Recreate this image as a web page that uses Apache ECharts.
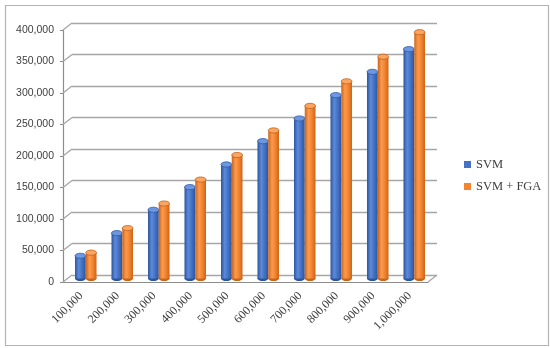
<!DOCTYPE html>
<html><head><meta charset="utf-8">
<script src="https://cdn.jsdelivr.net/npm/echarts@6/dist/echarts.min.js"></script>
<style>html,body{margin:0;padding:0;background:#fff}#c{width:550px;height:348px}</style>
</head><body><div id="c"></div>
<script>
var categories = ['100,000','200,000','300,000','400,000','500,000','600,000','700,000','800,000','900,000','1,000,000'];
var svm    = [36000, 72000, 109000, 145000, 181000, 218000, 254000, 291000, 328000, 364000];
var svmFga = [41000, 80000, 119000, 157000, 196000, 235000, 274000, 313000, 352000, 391000];
var yTicks = [0, 50000, 100000, 150000, 200000, 250000, 300000, 350000, 400000];
var seriesNames = ['SVM', 'SVM + FGA'];

var DX = 9, DY = 7; // 3D depth offset
var chart = echarts.init(document.getElementById('c'), null, {renderer:'canvas'});

function fmt(v){ return v.toString().replace(/\B(?=(\d{3})+(?!\d))/g, ','); }

var palettes = [
  {base:'#4472C4', edge:'#2c55a0', light:'#5d8ad9', top:'#6d97e0', stroke:'#2f5aa6'},
  {base:'#F4842E', edge:'#c9651a', light:'#fb9a4f', top:'#fba561', stroke:'#c4611a'}
];

function cylinder(side){
  return function(params, api){
    var v = api.value(1);
    var top = api.coord([api.value(0), v]);
    var bot = api.coord([api.value(0), 0]);
    var catW = api.size([1, 0])[0];
    var w = catW * 0.295;
    var x = side === 0 ? top[0] - w : top[0];
    var p = palettes[side];
    var ry = 2.6;
    var grad = new echarts.graphic.LinearGradient(0,0,1,0,[
      {offset:0, color:p.edge},{offset:0.35, color:p.light},{offset:0.65, color:p.base},{offset:1, color:p.edge}
    ]);
    return {type:'group', children:[
      {type:'ellipse', shape:{cx:x+w/2, cy:bot[1], rx:w/2, ry:ry}, style:{fill:p.edge}},
      {type:'rect', shape:{x:x, y:top[1], width:w, height:bot[1]-top[1]}, style:{fill:grad}},
      {type:'ellipse', shape:{cx:x+w/2, cy:top[1], rx:w/2, ry:ry}, style:{fill:p.top, stroke:p.stroke, lineWidth:0.8}}
    ]};
  };
}

var option = {
  animation:false,
  backgroundColor:'#fff',
  graphic:[{type:'rect', left:3, top:3, shape:{width:543, height:340}, style:{fill:'none', stroke:'#b4b4b4', lineWidth:1.2}, silent:true}],
  legend:{
    orient:'vertical', left:459, top:153, itemWidth:7, itemHeight:7, itemGap:9, icon:'rect',
    textStyle:{fontFamily:'Liberation Serif', fontSize:12.5, color:'#404040'},
    data:seriesNames
  },
  grid:[
    {left:63, top:30, width:365, height:252},          // front axes
    {left:63+DX, top:30-DY, width:365, height:252},    // back wall
    {left:63+DX/2, top:30-DY/2, width:365, height:252} // bars mid-depth
  ],
  xAxis:[
    {gridIndex:0, type:'category', data:categories, boundaryGap:true,
     axisLine:{lineStyle:{color:'#8c8c8c', width:1.2}},
     axisTick:{length:4, lineStyle:{color:'#8c8c8c'}},
     axisLabel:{rotate:45, margin:12, fontFamily:'Liberation Serif', fontSize:12, color:'#404040', interval:0}},
    {gridIndex:1, type:'category', data:categories, show:false},
    {gridIndex:2, type:'category', data:categories, show:false}
  ],
  yAxis:[
    {gridIndex:0, type:'value', min:0, max:400000, interval:50000,
     axisLine:{show:true, lineStyle:{color:'#8c8c8c', width:1.2}},
     axisTick:{show:true, length:3, lineStyle:{color:'#8c8c8c'}},
     splitLine:{show:false},
     axisLabel:{margin:9, formatter:function(v){return fmt(v);}, fontFamily:'Liberation Sans', fontSize:10.5, color:'#404040'}},
    {gridIndex:1, type:'value', min:0, max:400000, interval:50000,
     axisLine:{show:false}, axisTick:{show:false}, axisLabel:{show:false},
     splitLine:{show:true, lineStyle:{color:'#a6a6a6', width:1.3}}},
    {gridIndex:2, type:'value', min:0, max:400000, interval:50000, show:false}
  ],
  series:[
    {type:'custom', name:'walls', xAxisIndex:0, yAxisIndex:0, silent:true, z:1,
     data: yTicks.map(function(t){ return [0, t]; }),
     renderItem:function(params, api){
       var cs = params.coordSys;
       var y = api.coord([0, api.value(1)])[1];
       var children = [{type:'line', shape:{x1:cs.x, y1:y, x2:cs.x+DX, y2:y-DY}, style:{stroke:'#a6a6a6', lineWidth:1.3}}];
       if (api.value(1) === 0) {
         children.push({type:'line', shape:{x1:cs.x+cs.width, y1:y, x2:cs.x+cs.width+DX, y2:y-DY}, style:{stroke:'#a6a6a6', lineWidth:1.3}});
       }
       return {type:'group', children:children};
     }},
    {type:'custom', name:seriesNames[0], xAxisIndex:2, yAxisIndex:2, z:5,
     itemStyle:{color:palettes[0].base},
     data: svm.map(function(v,i){ return [i, v]; }),
     encode:{x:0, y:1},
     renderItem:cylinder(0)},
    {type:'custom', name:seriesNames[1], xAxisIndex:2, yAxisIndex:2, z:5,
     itemStyle:{color:palettes[1].base},
     data: svmFga.map(function(v,i){ return [i, v]; }),
     encode:{x:0, y:1},
     renderItem:cylinder(1)}
  ]
};
chart.setOption(option);
</script></body></html>
